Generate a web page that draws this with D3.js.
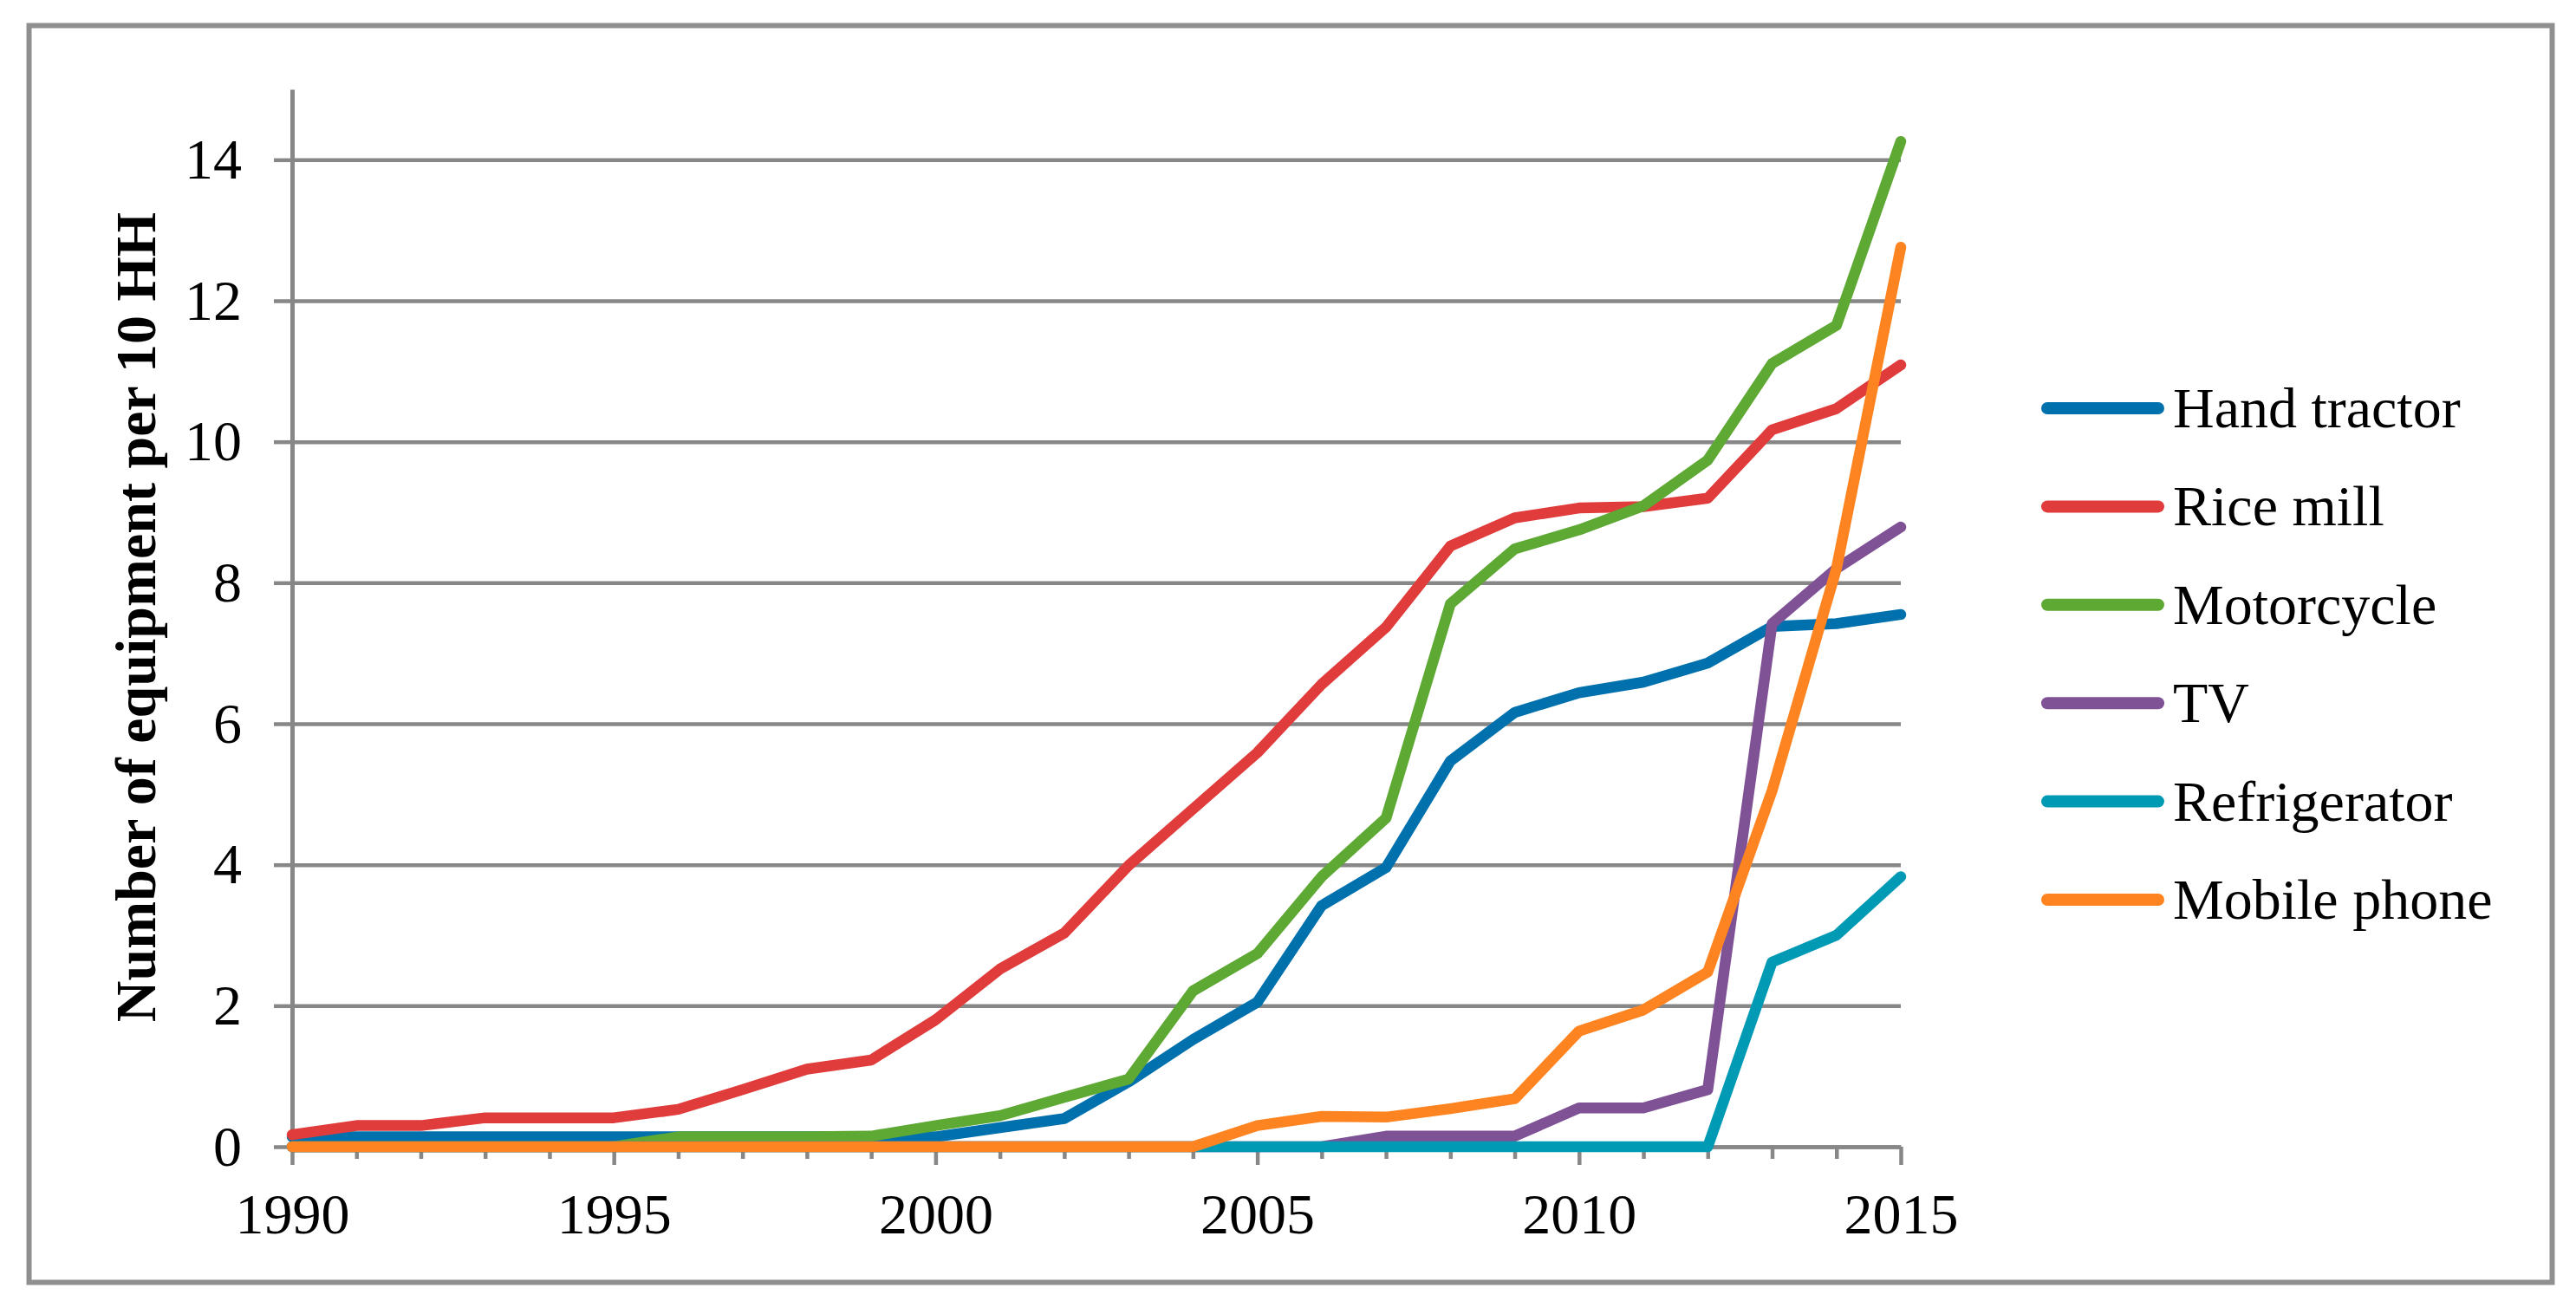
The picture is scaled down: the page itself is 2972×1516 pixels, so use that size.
<!DOCTYPE html>
<html>
<head>
<meta charset="utf-8">
<script src="https://cdn.jsdelivr.net/npm/d3@7"></script>
<style>
  body { margin: 0; background: #fff; }
</style>
</head>
<body>
<div id="chartid"></div>
<script>
"use strict"

var years = ["1990","1991","1992","1993","1994","1995","1996","1997","1998","1999","2000","2001","2002",
             "2003","2004","2005","2006","2007","2008","2009","2010","2011","2012","2013","2014","2015"];
var labelYears = ["1990","1995","2000","2005","2010","2015"];
var yTicks = [0, 2, 4, 6, 8, 10, 12, 14];

var seriesNames = ["Hand tractor","Rice mill","Motorcycle","TV","Refrigerator","Mobile phone"];
var seriesColors = ["#0071ad","#e03c3b","#5ea834","#7f5195","#009ab5","#fe8421"];

var handTractor = [0.14,0.14,0.14,0.14,0.14,0.14,0.14,0.14,0.14,0.14,0.14,0.27,0.40,
                   0.92,1.52,2.05,3.42,3.96,5.47,6.16,6.44,6.59,6.86,7.38,7.42,7.55];
var riceMill    = [0.17,0.30,0.30,0.41,0.41,0.41,0.53,0.81,1.10,1.23,1.80,2.52,3.03,
                   3.99,4.79,5.59,6.56,7.37,8.52,8.92,9.06,9.08,9.20,10.17,10.47,11.09];
var motorcycle  = [0,0,0,0,0,0,0.14,0.14,0.14,0.15,0.30,0.44,0.70,
                   0.96,2.21,2.74,3.83,4.66,7.70,8.48,8.75,9.09,9.74,11.11,11.65,14.26];
var tv          = [0,0,0,0,0,0,0,0,0,0,0,0,0,
                   0,0,0,0,0.15,0.15,0.15,0.55,0.55,0.81,7.42,8.20,8.79];
var refrigerator= [0,0,0,0,0,0,0,0,0,0,0,0,0,
                   0,0,0,0,0,0,0,0,0,0,2.62,3.00,3.83];
var mobilePhone = [0,0,0,0,0,0,0,0,0,0,0,0,0,
                   0,0,0.30,0.43,0.42,0.54,0.68,1.64,1.94,2.48,5.05,8.20,12.76];

var series = [handTractor, riceMill, motorcycle, tv, refrigerator, mobilePhone];

var font = "Liberation Serif, Times New Roman, serif";
var grey = "#878787";

function createChart(){
  var svg = d3.select("#chartid").append("svg")
    .attr("width", 2972)
    .attr("height", 1516);

  // outer frame
  svg.append("rect")
    .attr("x", 33.5).attr("y", 29.5)
    .attr("width", 2911).attr("height", 1450)
    .attr("fill", "#fff")
    .attr("stroke", "#8f8f8f")
    .attr("stroke-width", 6);

  var left = 337, right = 2193, top = 103, bottom = 1323;

  var scale_x = d3.scalePoint()
    .domain(years)
    .range([left, right]);

  var scale_y = d3.scaleLinear()
    .domain([0, 15])
    .range([bottom, top]);

  // gridlines
  var grid = svg.append("g")
    .attr("transform", "translate(" + left + ",0)")
    .call(d3.axisLeft(scale_y).tickValues(yTicks).tickSize(-(right - left)).tickFormat(""));
  grid.select(".domain").remove();
  grid.selectAll("line").attr("stroke", grey).attr("stroke-width", 4.5);

  // y axis
  var yAxis = svg.append("g")
    .attr("transform", "translate(" + left + ",0)")
    .call(d3.axisLeft(scale_y).tickValues(yTicks).tickSize(21).tickSizeOuter(0).tickPadding(37));
  yAxis.select(".domain").attr("stroke", grey).attr("stroke-width", 5);
  yAxis.selectAll("line").attr("stroke", grey).attr("stroke-width", 4.5);
  yAxis.attr("font-family", font).attr("font-size", 66);
  yAxis.selectAll("text").attr("fill", "#000");

  // x axis
  var xAxis = svg.append("g")
    .attr("transform", "translate(0," + bottom + ")")
    .call(d3.axisBottom(scale_x).tickSize(14).tickSizeOuter(0)
      .tickFormat(function(d){ return labelYears.indexOf(d) >= 0 ? d : ""; }));
  xAxis.select(".domain").attr("stroke", grey).attr("stroke-width", 4.5);
  xAxis.selectAll("line").attr("stroke", grey).attr("stroke-width", 4.5)
    .attr("y2", function(d){ return labelYears.indexOf(d) >= 0 ? 21 : 14; });
  xAxis.attr("font-family", font).attr("font-size", 66);
  xAxis.selectAll("text").attr("fill", "#000").attr("y", 100).attr("dy", 0);

  // axis title
  svg.append("text")
    .attr("transform", "translate(179,712) rotate(-90)")
    .attr("text-anchor", "middle")
    .attr("font-family", font)
    .attr("font-weight", "bold")
    .attr("font-size", 66)
    .text("Number of equipment per 10 HH");

  var line = d3.line()
    .x(function(d, i){ return scale_x(years[i]); })
    .y(function(d){ return scale_y(d); });

  svg.append("g").selectAll("path")
    .data(series)
    .join("path")
    .attr("fill", "none")
    .attr("stroke", function(d, i){ return seriesColors[i]; })
    .attr("stroke-width", 12.5)
    .attr("stroke-linejoin", "round")
    .attr("stroke-linecap", "round")
    .attr("d", line);

  // legend
  var legendY = d3.scaleLinear().domain([0, 5]).range([471, 1038]);
  var legend = svg.append("g").selectAll("g")
    .data(seriesNames)
    .join("g")
    .attr("transform", function(d, i){ return "translate(0," + legendY(i) + ")"; });

  legend.append("line")
    .attr("x1", 2362).attr("x2", 2490)
    .attr("stroke", function(d, i){ return seriesColors[i]; })
    .attr("stroke-width", 14)
    .attr("stroke-linecap", "round");

  legend.append("text")
    .attr("x", 2507).attr("y", 22)
    .attr("font-family", font)
    .attr("font-size", 66)
    .text(function(d){ return d; });
};

createChart();
</script>
</body>
</html>
